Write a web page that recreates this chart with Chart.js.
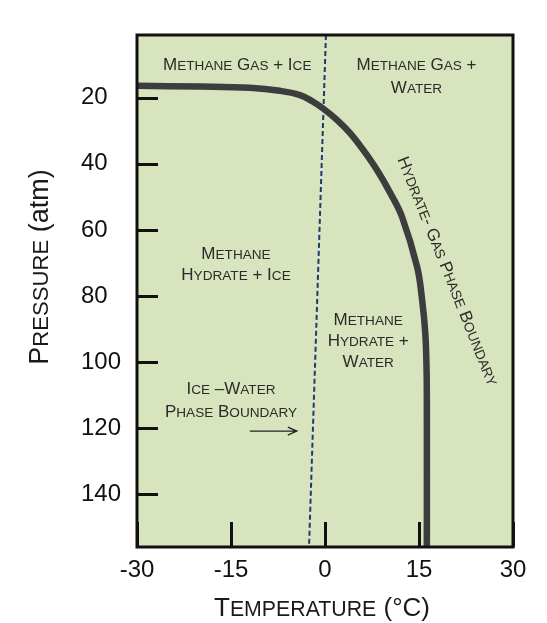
<!DOCTYPE html>
<html>
<head>
<meta charset="utf-8">
<title>Methane Hydrate Phase Diagram</title>
<script src="https://cdn.jsdelivr.net/npm/chart.js"></script>
<style>
  body {
    margin: 0;
    background: #ffffff;
  }
  .chart-container {
    position: relative;
    width: 547px;
    height: 623px;
  }
</style>
</head>
<body>
<div class="chart-container">
  <canvas id="chart"></canvas>
</div>
<script>
// hydrate-gas phase boundary (temperature in C, pressure in atm)
const boundaryTemp = [-30, -20, -12, -7.2, -4.0, -1.9, -0.3, 1.9, 4.0, 6.1, 8.3, 10.4, 12.3, 14.7, 15.5, 16.0, 16.2, 16.25, 16.25];
const boundaryPressure = [16.4, 16.6, 17.0, 17.9, 19.2, 21.2, 23.25, 26.7, 30.7, 35.8, 41.9, 48.8, 56.1, 71.2, 81.2, 91.2, 101.5, 111.5, 156];

// ice-water phase boundary (dashed)
const iceWaterTemp = [0.15, -2.55];
const iceWaterPressure = [1, 156];

const tempTicks = [-30, -15, 0, 15, 30];
const pressureTicks = [20, 40, 60, 80, 100, 120, 140];

const FONT = "'Liberation Sans', Arial, sans-serif";

// region labels, anchored at data coordinates
const regionLabels = [
  { lines: ['Methane Gas + Ice'], t: -14.0, p: 9.8, gap: 23 },
  { lines: ['Methane Gas +', 'Water'], t: 14.6, p: 13.3, gap: 23 },
  { lines: ['Methane', 'Hydrate + Ice'], t: -14.2, p: 70.2, gap: 21 },
  { lines: ['Methane', 'Hydrate +', 'Water'], t: 6.9, p: 93.3, gap: 21 },
  { lines: ['Ice \u2013Water', 'Phase Boundary'], t: -15.0, p: 111.4, gap: 23 }
];

const toPoints = (xs, ys) => xs.map((x, i) => ({ x: x, y: ys[i] }));

// split text into small-caps runs: lowercase letters become smaller capitals
function capsRuns(parts, size, ratio) {
  const runs = [];
  parts.forEach(part => {
    for (const ch of part.text) {
      let s = size;
      let c = ch;
      if (part.caps && ch !== ch.toUpperCase()) {
        s = Math.round(size * ratio * 10) / 10;
        c = ch.toUpperCase();
      }
      const last = runs[runs.length - 1];
      if (last && last.size === s) last.text += c;
      else runs.push({ text: c, size: s });
    }
  });
  return runs;
}

function drawCaps(ctx, parts, x, y, size, ratio) {
  const runs = capsRuns(parts, size, ratio || 0.8);
  let width = 0;
  runs.forEach(r => {
    ctx.font = r.size + 'px ' + FONT;
    r.w = ctx.measureText(r.text).width;
    width += r.w;
  });
  let cx = x - width / 2;
  ctx.textAlign = 'left';
  ctx.textBaseline = 'alphabetic';
  const base = y + size * 0.36;
  runs.forEach(r => {
    ctx.font = r.size + 'px ' + FONT;
    ctx.fillText(r.text, cx, base);
    cx += r.w;
  });
}

const diagramPlugin = {
  id: 'diagram',
  beforeDraw(chart) {
    const { ctx, chartArea: a } = chart;
    ctx.save();
    ctx.fillStyle = '#d7e4bd';
    ctx.fillRect(a.left, a.top, a.right - a.left, a.bottom - a.top);
    ctx.restore();
  },
  afterDatasetsDraw(chart) {
    const { ctx, chartArea: a, scales } = chart;
    const xs = scales.x;
    const ys = scales.y;
    ctx.save();

    // inward tick marks
    ctx.strokeStyle = '#111';
    ctx.lineWidth = 3;
    ctx.beginPath();
    pressureTicks.forEach(v => {
      const py = Math.round(ys.getPixelForValue(v)) + 0.5;
      ctx.moveTo(a.left, py);
      ctx.lineTo(a.left + 21, py);
    });
    tempTicks.forEach(v => {
      const px = Math.round(xs.getPixelForValue(v)) + 0.5;
      ctx.moveTo(px, a.bottom);
      ctx.lineTo(px, a.bottom - 25);
    });
    ctx.stroke();

    // frame
    ctx.lineWidth = 3;
    ctx.strokeRect(a.left, a.top, a.right - a.left, a.bottom - a.top);

    // region labels
    ctx.fillStyle = '#2b2b2b';
    regionLabels.forEach(lb => {
      const cx = xs.getPixelForValue(lb.t);
      const cy = ys.getPixelForValue(lb.p);
      const top = cy - (lb.lines.length - 1) * lb.gap / 2;
      lb.lines.forEach((line, i) => {
        drawCaps(ctx, [{ text: line, caps: true }], cx, top + i * lb.gap, 17, 0.8);
      });
    });

    // arrow pointing at the ice-water boundary
    const ax1 = xs.getPixelForValue(-12.0);
    const ax2 = xs.getPixelForValue(-4.5);
    const ay = ys.getPixelForValue(120.9);
    ctx.strokeStyle = '#222';
    ctx.lineWidth = 1.3;
    ctx.beginPath();
    ctx.moveTo(ax1, ay);
    ctx.lineTo(ax2, ay);
    ctx.moveTo(ax2 - 9, ay - 4);
    ctx.lineTo(ax2, ay);
    ctx.lineTo(ax2 - 9, ay + 4);
    ctx.stroke();

    // rotated label along the hydrate-gas boundary
    ctx.save();
    ctx.translate(xs.getPixelForValue(19.7), ys.getPixelForValue(72.4));
    ctx.rotate(68.2 * Math.PI / 180);
    drawCaps(ctx, [{ text: 'Hydrate- Gas Phase Boundary', caps: true }], 0, 0, 17, 0.8);
    ctx.restore();

    ctx.restore();
  },
  afterDraw(chart) {
    const { ctx, chartArea: a } = chart;
    ctx.save();
    ctx.fillStyle = '#1a1a1a';
    // x axis title
    drawCaps(ctx, [{ text: 'Temperature ', caps: true }, { text: '(\u00B0C)', caps: false }],
      (a.left + a.right) / 2 - 3, 607, 26, 0.82);
    // y axis title
    ctx.translate(38, 267);
    ctx.rotate(-Math.PI / 2);
    drawCaps(ctx, [{ text: 'Pressure ', caps: true }, { text: '(atm)', caps: false }], 0, 0, 27, 0.82);
    ctx.restore();
  }
};

const ctx = document.getElementById('chart').getContext('2d');
new Chart(ctx, {
  type: 'scatter',
  data: {
    datasets: [
      {
        label: 'Hydrate-gas phase boundary',
        data: toPoints(boundaryTemp, boundaryPressure),
        showLine: true,
        borderColor: '#3d3d3d',
        borderWidth: 6.5,
        pointRadius: 0,
        tension: 0.4,
        borderCapStyle: 'butt'
      },
      {
        label: 'Ice-water phase boundary',
        data: toPoints(iceWaterTemp, iceWaterPressure),
        showLine: true,
        borderColor: '#1f3a6e',
        borderWidth: 2,
        borderDash: [5, 3],
        pointRadius: 0
      }
    ]
  },
  options: {
    responsive: true,
    maintainAspectRatio: false,
    animation: false,
    layout: {
      padding: { left: 81, top: 35, right: 34, bottom: 0 }
    },
    plugins: {
      legend: { display: false },
      tooltip: { enabled: false }
    },
    scales: {
      x: {
        type: 'linear',
        min: -30,
        max: 30,
        grid: { display: false, drawTicks: false },
        border: { display: false },
        afterBuildTicks: scale => { scale.ticks = tempTicks.map(v => ({ value: v })); },
        afterFit: scale => { scale.height = 76; },
        ticks: {
          padding: 9,
          color: '#111',
          font: { family: FONT, size: 24 },
          maxRotation: 0,
          autoSkip: false
        }
      },
      y: {
        type: 'linear',
        reverse: true,
        min: 1,
        max: 156,
        grid: { display: false, drawTicks: false },
        border: { display: false },
        afterBuildTicks: scale => { scale.ticks = pressureTicks.map(v => ({ value: v })); },
        afterFit: scale => { scale.width = 56; },
        ticks: {
          crossAlign: 'far',
          color: '#111',
          font: { family: FONT, size: 24 },
          autoSkip: false
        }
      }
    }
  },
  plugins: [diagramPlugin]
});
</script>
</body>
</html>
